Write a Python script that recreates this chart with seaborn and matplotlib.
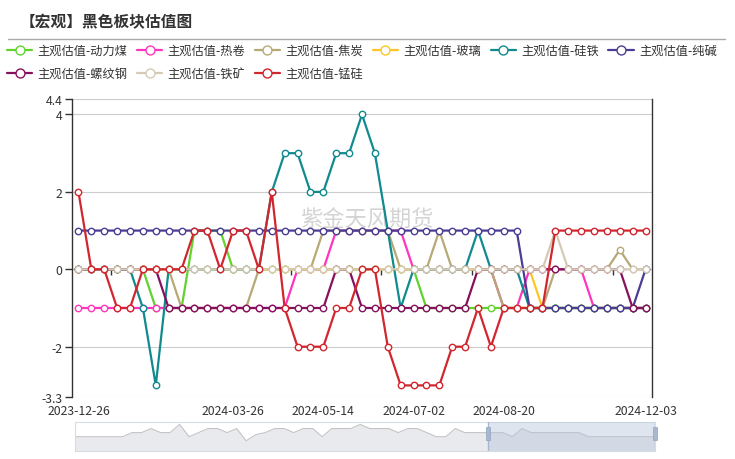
import matplotlib
matplotlib.use("Agg")
import matplotlib.pyplot as plt
import seaborn as sns
import pandas as pd
import numpy as np
from matplotlib.lines import Line2D
from matplotlib.patches import Rectangle

# ---------------- data ----------------
series_names = ["主观估值-动力煤", "主观估值-热卷", "主观估值-焦炭", "主观估值-玻璃",
                "主观估值-硅铁", "主观估值-纯碱", "主观估值-螺纹钢", "主观估值-铁矿",
                "主观估值-锰硅"]
series_colors = ["#62d22e", "#ff35bd", "#b7a976", "#ffc626", "#108a8e",
                 "#4b3d93", "#86115c", "#d5cab6", "#d2262e"]

tick_positions = [0, 12, 19, 26, 33, 44]
tick_labels = ["2023-12-26", "2024-03-26", "2024-05-14", "2024-07-02", "2024-08-20", "2024-12-03"]

dongli = [0, 0, 0, 0, 0, 0, -1, -1, -1, 1,
          1, 1, 0, 0, 0, 0, 0, 0, 0, 0,
          0, 0, 0, 0, 0, 0, 0, -1, -1, -1,
          -1, -1, -1, -1, -1, -1, -1, -1, -1, -1,
          -1, -1, -1, -1, -1]
rejuan = [-1, -1, -1, -1, -1, -1, -1, -1, -1, -1,
          -1, -1, -1, -1, -1, -1, -1, 0, 0, 0,
          1, 1, 1, 1, 1, 1, 0, 0, 0, 0,
          0, 0, 0, -1, -1, 0, 0, 0, 0, 0,
          -1, -1, -1, -1, -1]
jiaotan = [0, 0, 0, 0, 0, 0, 0, 0, -1, -1,
           -1, -1, -1, -1, 0, 0, 0, 0, 0, 1,
           1, 1, 1, 1, 1, 0, 0, 0, 1, 0,
           0, 0, 0, -1, -1, -1, -1, 0, 0, 0,
           0, 0, 0.5, 0, 0]
boli = [0, 0, 0, 0, 0, 0, 0, 0, 0, 0,
        0, 0, 0, 0, 0, 0, 0, 0, 0, 0,
        0, 0, 0, 0, 0, 0, 0, 0, 0, 0,
        0, 0, 0, 0, 0, 0, -1, -1, -1, -1,
        -1, -1, -1, -1, -1]
guitie = [0, 0, 0, 0, 0, -1, -3, 0, 0, 0,
          0, 0, 0, 0, 0, 2, 3, 3, 2, 2,
          3, 3, 4, 3, 1, -1, 0, 0, 0, 0,
          0, 1, 0, 0, 0, -1, -1, -1, -1, -1,
          -1, -1, -1, -1, -1]
chunjian = [1, 1, 1, 1, 1, 1, 1, 1, 1, 1,
            1, 1, 1, 1, 1, 1, 1, 1, 1, 1,
            1, 1, 1, 1, 1, 1, 1, 1, 1, 1,
            1, 1, 1, 1, 1, -1, -1, -1, -1, -1,
            -1, -1, -1, -1, 0]
luowen = [0, 0, 0, 0, 0, 0, 0, -1, -1, -1,
          -1, -1, -1, -1, -1, -1, -1, -1, -1, -1,
          0, 0, -1, -1, -1, -1, -1, -1, -1, -1,
          -1, 0, 0, 0, 0, 0, 0, 0, 0, 0,
          0, 0, 0, -1, -1]
tiekuang = [0, 0, 0, 0, 0, 0, 0, 0, 0, 0,
            0, 0, 0, 0, 0, 0, 0, 0, 0, 0,
            0, 0, 0, 0, 0, 0, 0, 0, 0, 0,
            0, 0, 0, 0, 0, 0, 0, 1, 0, 0,
            0, 0, 0, 0, 0]
mengui = [2, 0, 0, -1, -1, 0, 0, 0, 0, 1,
          1, 0, 1, 1, 0, 2, -1, -2, -2, -2,
          -1, -1, 0, 0, -2, -3, -3, -3, -3, -2,
          -2, -1, -2, -1, -1, -1, -1, 1, 1, 1,
          1, 1, 1, 1, 1]

# overview strip of the data-zoom slider (rough shape)
nav_values = [1, 1, 1, 1, 1, 1, 2, 2, 3, 2, 2, 4, 1, 2, 3, 3, 2, 3, 0, 1.5,
              2, 3, 3, 2, 3, 3, 1, 3, 3, 3, 4, 3, 3, 3, 2, 3, 3, 2, 1, 1,
              3, 2, 2, 2, 2, 2, 1, 3, 2, 2, 2, 2, 2, 2, 1, 1, 1, 1, 1, 1, 1, 1]
nav_sel_start = 0.712  # fraction of slider where the selected window starts

all_values = [dongli, rejuan, jiaotan, boli, guitie, chunjian, luowen, tiekuang, mengui]

frames = []
for name, vals in zip(series_names, all_values):
    frames.append(pd.DataFrame({"idx": np.arange(len(vals)), "value": vals, "series": name}))
df = pd.concat(frames, ignore_index=True)

# ---------------- style ----------------
sns.set_style("white")
plt.rcParams["font.family"] = ["Noto Sans CJK SC", "DejaVu Sans"]
plt.rcParams["axes.unicode_minus"] = False

W, H = 735, 460
fig = plt.figure(figsize=(W / 100, H / 100), dpi=100)
ax = fig.add_axes([72 / W, 1 - 398 / H, 580 / W, 298 / H])

for name, col in zip(series_names, series_colors):
    sub = df[df["series"] == name]
    sns.lineplot(data=sub, x="idx", y="value", ax=ax, color=col, label=name,
                 linewidth=1.6, marker="o", markersize=4.6,
                 markerfacecolor="white", markeredgecolor=col,
                 markeredgewidth=1.0, estimator=None, sort=False)

if ax.get_legend() is not None:
    ax.get_legend().remove()

ax.set_xlim(-0.5, 44.5)
ax.set_ylim(-3.3, 4.4)
yt = [-3.3, -2, 0, 2, 4, 4.4]
ax.set_yticks(yt)
ax.set_yticklabels(["-3.3", "-2", "0", "2", "4", "4.4"])
ax.set_xticks(tick_positions)
ax.set_xticklabels(tick_labels)
ax.set_xlabel("")
ax.set_ylabel("")
ax.grid(axis="y", color="#cccccc", linewidth=0.8)
ax.grid(axis="x", visible=False)
ax.set_axisbelow(True)
for s in ["top", "bottom"]:
    ax.spines[s].set_visible(False)
for s in ["left", "right"]:
    ax.spines[s].set_visible(True)
    ax.spines[s].set_color("#333333")
    ax.spines[s].set_linewidth(1.0)
ax.tick_params(axis="y", length=5, width=1, color="#333333", labelcolor="#333333",
               labelsize=8.8, pad=2, direction="out", left=True, right=False)
ax.tick_params(axis="x", length=0, labelcolor="#333333", labelsize=8.8, pad=5)

# small axis ticks along the zero line
sec = ax.secondary_xaxis(3.3 / 7.7)
sec.set_xticks([2.5, 16.5, 23.5, 30.5, 41.5])
sec.tick_params(axis="x", length=4, width=1, color="#333333", labelbottom=False,
                labeltop=False, direction="out")
for s in sec.spines.values():
    s.set_visible(False)

# watermark
ax.text(0.509, 0.597, "紫金天风期货", transform=ax.transAxes, ha="center", va="center",
        fontsize=16, color="#d4d4d4", zorder=0.5)

# title + separator
fig.text(20 / W, 1 - 22 / H, "【宏观】黑色板块估值图", fontsize=11.3, fontweight="bold",
         color="#333333", ha="left", va="center")
fig.add_artist(Line2D([8 / W, 725 / W], [1 - 40 / H, 1 - 40 / H], color="#aaaaaa",
                      linewidth=1.0, transform=fig.transFigure))

# legend (row-major order across 6 columns)
handles, labels = ax.get_legend_handles_labels()
order = [0, 6, 1, 7, 2, 8, 3, 4, 5]
fig.legend([handles[i] for i in order], [labels[i] for i in order], ncol=6,
           loc="upper left", bbox_to_anchor=(7 / W, 1 - 45 / H),
           frameon=False, fontsize=8.8, handlelength=2.05, handletextpad=0.45,
           columnspacing=0.78, labelspacing=0.8, markerscale=1.4, borderpad=0,
           borderaxespad=0, labelcolor="#333333")

# data-zoom slider
axn = fig.add_axes([75 / W, 1 - 452 / H, 580 / W, 29 / H])
nav_df = pd.DataFrame({"i": np.arange(len(nav_values)), "v": nav_values})
sns.lineplot(data=nav_df, x="i", y="v", ax=axn, color="#c4c4c4", linewidth=0.8)
axn.fill_between(nav_df["i"], nav_df["v"], -3, color="#e8eaee", linewidth=0)
axn.set_xlim(0, len(nav_values) - 1)
axn.set_ylim(-2.5, 4.6)
axn.set_xticks([])
axn.set_yticks([])
axn.set_xlabel("")
axn.set_ylabel("")
for s in axn.spines.values():
    s.set_color("#d6dce6")
    s.set_linewidth(0.8)
x0 = nav_sel_start * (len(nav_values) - 1)
x1 = len(nav_values) - 1
axn.add_patch(Rectangle((x0, -2.5), x1 - x0, 7.1, facecolor="#b8c6dc", alpha=0.45,
                        edgecolor="none", zorder=3))
axn.axvline(x0, color="#a9b8cf", linewidth=1, zorder=4)
axn.axvline(x1, color="#a9b8cf", linewidth=1, zorder=4)
for xx in (x0, x1):
    axn.add_patch(Rectangle((xx - 0.22, 0.1), 0.44, 3.2, facecolor="#a9b8cf",
                            edgecolor="#8fa2c0", linewidth=0.5, zorder=5, clip_on=False))

fig.savefig("out.png", dpi=100)
